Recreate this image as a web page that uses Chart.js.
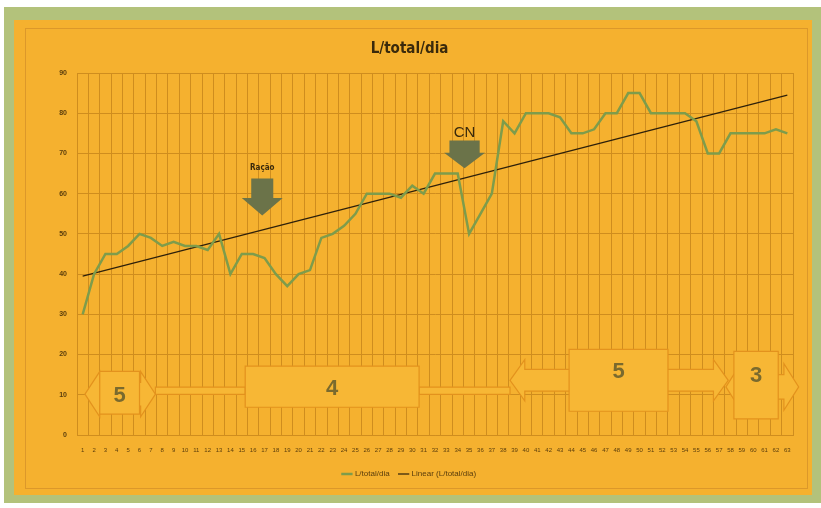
<!DOCTYPE html>
<html>
<head>
<meta charset="utf-8">
<script src="https://cdn.jsdelivr.net/npm/chart.js@4"></script>
<style>
  html, body { margin: 0; background: #fff; }
  #frame { position: absolute; left: 4px; top: 7px; width: 817px; height: 496px; background: #b3c27b; }
  #panel { position: absolute; left: 10px; top: 13px; width: 798px; height: 475px; background: #f5b12f; }
  #box { position: absolute; left: 11px; top: 8px; width: 781px; height: 459px; border: 1px solid #dc982a; }
  canvas { display: block; }
</style>
</head>
<body>
<div id="frame"><div id="panel"><div id="box"><canvas id="c" width="781" height="459"></canvas></div></div></div>
<script>
// daily litres per day over the trial
const days = Array.from({ length: 63 }, (_, i) => String(i + 1));
const litres = [30, 40, 45, 45, 47, 50, 49, 47, 48, 47, 47, 46, 50, 40, 45, 45, 44, 40, 37, 40,
  41, 49, 50, 52, 55, 60, 60, 60, 59, 62, 60, 65, 65, 65, 50, 55, 60, 78, 75, 80,
  80, 80, 79, 75, 75, 76, 80, 80, 85, 85, 80, 80, 80, 80, 78, 70, 70, 75, 75, 75,
  75, 76, 75];
// linear trend, first and last day
const trendEnds = [39.5, 84.5];
const yTicks = [0, 10, 20, 30, 40, 50, 60, 70, 80, 90];

const trend = days.map((_, i) => (i === 0 ? trendEnds[0] : i === days.length - 1 ? trendEnds[1] : null));

// callouts: drop arrows and the phase boxes along the bottom (category index / value units)
const drops = [
  { text: "Ração", font: "bold 8px 'Liberation Sans Narrow', 'DejaVu Sans Condensed', sans-serif", at: 15.8, textY: 66.5, top: 63.8, neck: 58.9, tip: 54.6, shaft: 0.97, head: 1.8 },
  { text: "CN", font: "15px 'Liberation Sans', sans-serif", at: 33.6, textY: 75.2, top: 73.2, neck: 70.2, tip: 66.3, shaft: 1.33, head: 1.8 },
];
const phases = [
  { label: "5", box: [1.5, 5, 5.2, 15.8], arrow: [0.2, 6.4, 7.2, 13.1], labelY: 9.6 },
  { label: "4", box: [14.3, 29.6, 6.9, 17.1], arrow: null, labelY: 11.4 },
  { label: "5", box: [42.8, 51.5, 5.9, 21.3], arrow: [37.6, 56.8, 10.9, 16.3], labelY: 15.6 },
  { label: "3", box: [57.3, 61.2, 4.0, 20.8], arrow: [56.6, 63.0, 8.9, 15.0], labelY: 14.6 },
];
const links = [[6.4, 14.3], [29.6, 37.6]];
const linkBand = [10.1, 11.9];

const GRID = "#cf8d1e";
const INK = "#5a3d0c";

const callouts = {
  id: "callouts",
  beforeDatasetsDraw(chart) {
    const { ctx } = chart;
    const X = (i) => chart.scales.x.getPixelForValue(i);
    const Y = (v) => chart.scales.y.getPixelForValue(v);
    ctx.save();
    ctx.fillStyle = "#f7b735";
    ctx.strokeStyle = "#e3921d";
    ctx.lineWidth = 1.2;
    links.forEach(([a, b]) => {
      ctx.beginPath();
      ctx.rect(X(a), Y(linkBand[1]), X(b) - X(a), Y(linkBand[0]) - Y(linkBand[1]));
      ctx.fill(); ctx.stroke();
    });
    phases.forEach((p) => {
      if (p.arrow) {
        const [a, b, lo, hi] = p.arrow;
        const mid = (lo + hi) / 2, spread = (hi - lo) * 0.45, h = 1.3;
        ctx.beginPath();
        ctx.moveTo(X(a), Y(mid));
        ctx.lineTo(X(a + h), Y(hi + spread));
        ctx.lineTo(X(a + h), Y(hi));
        ctx.lineTo(X(b - h), Y(hi));
        ctx.lineTo(X(b - h), Y(hi + spread));
        ctx.lineTo(X(b), Y(mid));
        ctx.lineTo(X(b - h), Y(lo - spread));
        ctx.lineTo(X(b - h), Y(lo));
        ctx.lineTo(X(a + h), Y(lo));
        ctx.lineTo(X(a + h), Y(lo - spread));
        ctx.closePath();
        ctx.fill(); ctx.stroke();
      }
      const [x0, x1, y0, y1] = p.box;
      ctx.beginPath();
      ctx.rect(X(x0), Y(y1), X(x1) - X(x0), Y(y0) - Y(y1));
      ctx.fill(); ctx.stroke();
    });
    ctx.fillStyle = "#7a6a2e";
    ctx.font = "bold 22px 'Liberation Sans', sans-serif";
    ctx.textAlign = "center";
    ctx.textBaseline = "middle";
    phases.forEach((p) => ctx.fillText(p.label, X((p.box[0] + p.box[1]) / 2), Y(p.labelY)));

    drops.forEach((d) => {
      ctx.fillStyle = "#6b7349";
      ctx.beginPath();
      ctx.moveTo(X(d.at - d.shaft), Y(d.top));
      ctx.lineTo(X(d.at + d.shaft), Y(d.top));
      ctx.lineTo(X(d.at + d.shaft), Y(d.neck));
      ctx.lineTo(X(d.at + d.head), Y(d.neck));
      ctx.lineTo(X(d.at), Y(d.tip));
      ctx.lineTo(X(d.at - d.head), Y(d.neck));
      ctx.lineTo(X(d.at - d.shaft), Y(d.neck));
      ctx.closePath();
      ctx.fill();
      ctx.fillStyle = "#3a2a0c";
      ctx.font = d.font;
      ctx.fillText(d.text, X(d.at), Y(d.textY));
    });
    ctx.restore();
  },
};

new Chart(document.getElementById("c"), {
  type: "line",
  data: {
    labels: days,
    datasets: [
      { label: "L/total/dia", data: litres, borderColor: "#7e9c4b", backgroundColor: "#7e9c4b", borderWidth: 2.5, pointRadius: 0, tension: 0 },
      { label: "Linear (L/total/dia)", data: trend, spanGaps: true, borderColor: "#2e200a", backgroundColor: "#2e200a", borderWidth: 1.2, pointRadius: 0 },
    ],
  },
  options: {
    responsive: false,
    animation: false,
    layout: { padding: { left: 0, right: 14, top: 0, bottom: 0 } },
    plugins: {
      title: {
        display: true,
        text: "L/total/dia",
        color: "#3a2a0c",
        font: { family: "'Liberation Sans Narrow', 'DejaVu Sans Condensed', sans-serif", size: 15, weight: "bold" },
        padding: { top: 11, bottom: 15 },
      },
      legend: {
        position: "bottom",
        labels: {
          color: INK,
          font: { size: 8, family: "'Liberation Sans Narrow', sans-serif" },
          usePointStyle: true,
          pointStyle: "line",
          boxWidth: 18,
          padding: 10,
        },
      },
      tooltip: { enabled: false },
    },
    scales: {
      x: {
        offset: true,
        grid: { color: GRID, offset: true, drawTicks: false },
        border: { color: GRID },
        ticks: { color: INK, font: { size: 6 }, autoSkip: false, maxRotation: 0, padding: 12 },
        afterFit: (s) => { s.height = 25; },
      },
      y: {
        min: 0,
        max: 90,
        afterBuildTicks: (s) => { s.ticks = yTicks.map((v) => ({ value: v })); },
        grid: { color: GRID, drawTicks: false },
        border: { color: GRID },
        ticks: { color: INK, font: { size: 7, weight: "bold" }, padding: 10 },
        afterFit: (s) => { s.width = 51; },
      },
    },
  },
  plugins: [callouts],
});
</script>
</body>
</html>
